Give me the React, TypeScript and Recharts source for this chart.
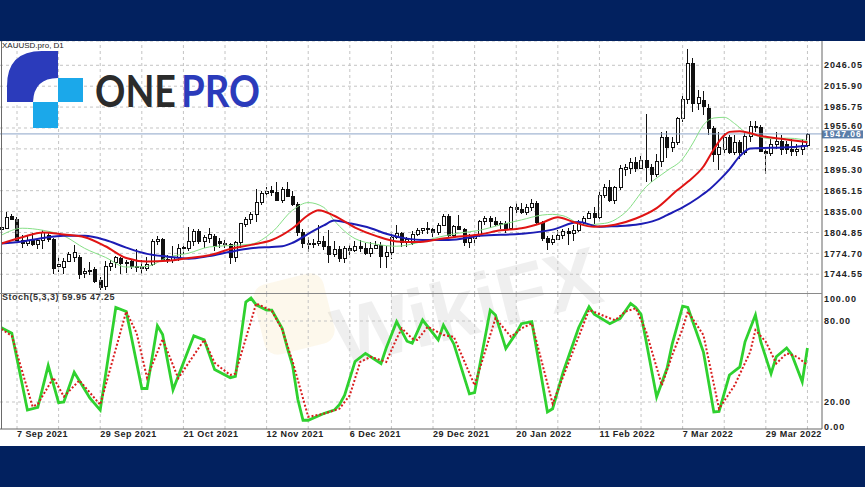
import React from "react";
import { ComposedChart, LineChart, Bar, Line, XAxis, YAxis, CartesianGrid, ReferenceLine } from "recharts";

// XAUUSD daily, 2 Sep 2021 .. 8 Apr 2022 (one entry per bar)
const opens = [
  1810, 1812, 1828, 1824, 1794, 1789, 1794, 1788, 1794, 1801,
  1795, 1757, 1755, 1764, 1770, 1770, 1746, 1749, 1752, 1736,
  1727, 1757, 1762, 1768, 1761, 1763, 1756, 1757, 1754, 1760,
  1793, 1796, 1767, 1765, 1769, 1782, 1783, 1793, 1807, 1793,
  1797, 1800, 1793, 1789, 1788, 1769, 1791, 1817, 1824, 1832,
  1849, 1862, 1866, 1863, 1851, 1868, 1858, 1846, 1805, 1789,
  1788, 1790, 1792, 1785, 1774, 1781, 1768, 1783, 1779, 1785,
  1783, 1775, 1783, 1787, 1771, 1777, 1799, 1804, 1791, 1789,
  1803, 1808, 1811, 1810, 1805, 1815, 1829, 1801, 1814, 1810,
  1791, 1797, 1801, 1822, 1826, 1821, 1817, 1818, 1812, 1841,
  1839, 1835, 1842, 1848, 1820, 1797, 1791, 1796, 1801, 1807,
  1804, 1808, 1820, 1826, 1833, 1827, 1859, 1870, 1852, 1871,
  1896, 1898, 1906, 1898, 1910, 1900, 1889, 1908, 1943, 1928,
  1936, 1970, 1998, 2049, 1992, 1996, 1985, 1955, 1918, 1926,
  1943, 1921, 1936, 1921, 1944, 1958, 1957, 1923, 1919, 1933,
  1937, 1932, 1926, 1923, 1925, 1931,
];
const highs = [
  1823, 1834, 1831, 1827, 1801, 1800, 1804, 1796, 1808, 1806,
  1797, 1770, 1768, 1776, 1787, 1772, 1753, 1762, 1755, 1740,
  1764, 1765, 1771, 1770, 1765, 1767, 1781, 1765, 1770, 1796,
  1800, 1797, 1772, 1785, 1788, 1790, 1813, 1810, 1810, 1801,
  1811, 1802, 1797, 1794, 1790, 1793, 1818, 1827, 1834, 1868,
  1865, 1870, 1872, 1877, 1871, 1877, 1864, 1849, 1810, 1799,
  1796, 1815, 1800, 1808, 1792, 1785, 1786, 1787, 1792, 1794,
  1789, 1791, 1792, 1791, 1785, 1804, 1815, 1806, 1798, 1807,
  1812, 1812, 1820, 1811, 1818, 1831, 1832, 1815, 1830, 1811,
  1802, 1803, 1823, 1829, 1829, 1827, 1822, 1822, 1843, 1847,
  1847, 1846, 1853, 1850, 1822, 1800, 1801, 1808, 1810, 1812,
  1815, 1823, 1829, 1836, 1842, 1865, 1875, 1880, 1872, 1902,
  1903, 1913, 1914, 1915, 1976, 1904, 1918, 1950, 1951, 1942,
  1971, 2002, 2070, 2056, 2010, 2009, 1990, 1958, 1950, 1949,
  1945, 1945, 1938, 1948, 1966, 1966, 1960, 1926, 1940, 1950,
  1945, 1937, 1940, 1932, 1940, 1949,
];
const lows = [
  1808, 1809, 1822, 1792, 1782, 1786, 1785, 1781, 1780, 1792,
  1745, 1748, 1745, 1761, 1763, 1737, 1739, 1743, 1732, 1721,
  1722, 1749, 1754, 1746, 1746, 1752, 1748, 1745, 1750, 1757,
  1787, 1762, 1760, 1761, 1764, 1774, 1778, 1785, 1788, 1782,
  1790, 1777, 1783, 1782, 1759, 1763, 1782, 1812, 1816, 1821,
  1845, 1855, 1858, 1850, 1848, 1856, 1843, 1800, 1782, 1778,
  1783, 1785, 1780, 1761, 1769, 1762, 1762, 1772, 1776, 1777,
  1771, 1770, 1780, 1753, 1753, 1767, 1795, 1785, 1783, 1787,
  1800, 1803, 1803, 1798, 1800, 1813, 1798, 1797, 1808, 1785,
  1782, 1785, 1799, 1816, 1812, 1814, 1810, 1805, 1810, 1833,
  1831, 1830, 1835, 1816, 1793, 1780, 1786, 1794, 1796, 1788,
  1792, 1806, 1815, 1825, 1818, 1821, 1855, 1848, 1846, 1866,
  1886, 1890, 1893, 1896, 1878, 1878, 1885, 1900, 1912, 1920,
  1930, 1965, 1990, 1978, 1981, 1975, 1945, 1906, 1895, 1920,
  1917, 1916, 1910, 1916, 1935, 1950, 1922, 1890, 1916, 1926,
  1916, 1918, 1915, 1915, 1917, 1927,
];
const closes = [
  1813, 1827, 1824, 1794, 1789, 1794, 1788, 1794, 1805, 1795,
  1754, 1760, 1764, 1774, 1777, 1745, 1750, 1751, 1735, 1726,
  1757, 1761, 1769, 1761, 1762, 1757, 1757, 1754, 1760, 1793,
  1796, 1767, 1765, 1769, 1783, 1784, 1792, 1807, 1793, 1798,
  1803, 1786, 1789, 1788, 1769, 1791, 1818, 1824, 1832, 1849,
  1862, 1865, 1863, 1851, 1868, 1858, 1846, 1805, 1789, 1788,
  1790, 1792, 1785, 1774, 1781, 1768, 1783, 1779, 1785, 1783,
  1775, 1783, 1787, 1771, 1777, 1799, 1804, 1791, 1795, 1803,
  1808, 1811, 1810, 1805, 1815, 1829, 1801, 1814, 1810, 1791,
  1797, 1801, 1822, 1826, 1821, 1817, 1818, 1812, 1841, 1839,
  1835, 1842, 1848, 1820, 1797, 1791, 1796, 1801, 1807, 1804,
  1808, 1820, 1826, 1833, 1827, 1859, 1870, 1852, 1871, 1898,
  1899, 1906, 1898, 1910, 1900, 1889, 1908, 1943, 1928, 1936,
  1970, 1998, 2049, 1992, 2000, 1988, 1955, 1918, 1928, 1943,
  1921, 1936, 1921, 1944, 1958, 1957, 1923, 1919, 1933, 1937,
  1925, 1926, 1923, 1925, 1931, 1947,
];

// moving averages: [bar, price]
const maFast: [number, number][] = [
  [0, 1801], [4, 1811], [8, 1808], [12, 1800], [16, 1782], [20, 1769], [24, 1755], [28, 1756],
  [32, 1769], [36, 1775], [40, 1784], [44, 1786], [48, 1788], [52, 1805], [56, 1837], [59, 1848],
  [62, 1841], [64, 1822], [68, 1796], [72, 1788], [76, 1785], [80, 1790], [84, 1798], [88, 1804],
  [92, 1808], [96, 1816], [100, 1823], [104, 1830], [106, 1831], [108, 1829], [112, 1816], [116, 1818],
  [120, 1834], [124, 1871], [128, 1894], [131, 1911], [133, 1934], [135, 1960], [137, 1970], [139, 1971],
  [141, 1962], [143, 1950], [145, 1945], [148, 1940], [151, 1941], [154, 1939], [155, 1937],
];
const maMid: [number, number][] = [
  [0, 1789], [4, 1798], [8, 1805], [12, 1802], [16, 1798], [20, 1785], [24, 1768], [28, 1763],
  [32, 1764], [36, 1768], [40, 1772], [44, 1781], [48, 1787], [52, 1794], [56, 1811], [59, 1830],
  [61, 1837], [64, 1829], [68, 1812], [72, 1800], [76, 1792], [80, 1791], [84, 1795], [88, 1799],
  [92, 1802], [96, 1808], [100, 1811], [104, 1819], [107, 1827], [110, 1820], [114, 1813], [118, 1816],
  [122, 1825], [126, 1840], [130, 1866], [132, 1878], [135, 1900], [137, 1925], [139, 1945], [140, 1950],
  [142, 1951], [146, 1944], [150, 1940], [154, 1936], [155, 1935],
];
const maSlow: [number, number][] = [
  [0, 1789], [4, 1792], [8, 1797], [12, 1800], [16, 1800], [20, 1794], [24, 1783], [28, 1774],
  [32, 1770], [36, 1767], [40, 1771], [44, 1777], [48, 1782], [52, 1784], [54, 1785], [56, 1790],
  [59, 1803], [62, 1815], [64, 1822], [67, 1818], [71, 1811], [74, 1803], [78, 1796], [81, 1794],
  [86, 1794], [92, 1800], [100, 1803], [106, 1809], [111, 1820], [115, 1813], [118, 1814], [122, 1816],
  [126, 1823], [128, 1830], [131, 1841], [134, 1855], [136, 1866], [138, 1880], [140, 1896], [142, 1915],
  [144, 1926], [148, 1927], [152, 1928], [155, 1930],
];

// Stochastic (5,3,3): [bar, value]
const stochK: [number, number][] = [
  [0, 75], [2, 71], [5, 14], [7, 16], [9, 47], [11, 19.5], [12, 20], [14, 42], [17, 23], [19, 14],
  [22, 90], [24, 87], [27, 30], [28, 30], [30, 76.5], [31, 70], [33, 29], [37, 69], [39, 66], [41, 44],
  [44, 38], [45, 39], [47, 94], [48, 97], [49, 92], [51, 88], [52, 88], [54, 74.5], [55, 60], [56, 47],
  [57, 22], [58, 6.5], [59, 6.5], [62, 11.5], [64, 14], [65, 18], [66, 25], [68, 50], [70, 56], [71, 53.5],
  [73, 48.5], [74, 60], [76, 79.5], [78, 65], [79, 63.5], [81, 80.7], [84, 66], [85, 77], [87, 63], [90, 26],
  [91, 27], [94, 88], [95, 84.5], [97, 59.6], [99, 71], [100, 78], [102, 79.5], [105, 12.6], [106, 15], [108, 42],
  [111, 75], [113, 90.6], [114, 85], [117, 78], [119, 82], [121, 93], [122, 90], [123, 85], [124, 64.6], [126, 23.7],
  [128, 45], [129, 63], [131, 91], [132, 90], [135, 57], [137, 12.6], [138, 13], [140, 40], [142, 46], [143, 64.6],
  [145, 84.5], [146, 65], [148, 41], [149, 53.5], [151, 60], [152, 55], [154, 35], [155, 59.95],
];
const stochD: [number, number][] = [
  [0, 74], [2, 69], [6, 16.5], [7, 18.5], [10, 38], [12, 24], [15, 36], [19, 18], [24, 87], [26, 71],
  [28, 38], [31, 66.6], [34, 37.6], [39, 66], [41, 49], [44, 40], [45, 41], [49, 93], [52, 87.5], [54, 73.5],
  [56, 50], [59, 9], [62, 11.3], [65, 15], [67, 25], [69, 49.7], [71, 53.5], [74, 49.7], [76, 67], [77, 74.5],
  [79, 67], [80, 66], [82, 75.8], [85, 69.6], [87, 68.3], [91, 32.4], [95, 82], [98, 68.3], [100, 74.5], [102, 78.2],
  [106, 18.7], [113, 88.2], [117, 82], [118, 80.7], [120, 87], [122, 89.4], [124, 72], [127, 32.4], [129, 54.7], [131, 74.5],
  [132, 87], [135, 69.6], [138, 15], [141, 32.4], [144, 57.2], [145, 73.3], [147, 64.6], [149, 48.5], [151, 56], [153, 53.5],
  [155, 47.25],
];

const priceTicks = [1744.55, 1774.7, 1804.85, 1835.0, 1865.15, 1895.3, 1925.45, 1955.6, 1985.75, 2015.9, 2046.05];
const stochTicks = [0, 20, 80, 100];
const dateLabels = [
  "7 Sep 2021", "29 Sep 2021", "21 Oct 2021", "12 Nov 2021", "6 Dec 2021",
  "29 Dec 2021", "20 Jan 2022", "11 Feb 2022", "7 Mar 2022", "29 Mar 2022",
];
const dateLabelBars = [3, 19, 35, 51, 67, 83, 99, 115, 131, 147];
const gridBars = [3, 11, 19, 27, 35, 43, 51, 59, 67, 75, 83, 91, 99, 107, 115, 123, 131, 139, 147, 155];
const lastPrice = 1947.06;
const stochTitle = "Stoch(5,3,3) 59.95 47.25";
const symbolTitle = "XAUUSD.pro, D1";

const priceDomain: [number, number] = [1716.1, 2081.1];
const barDomain: [number, number] = [-0.27, 157.8];

const NAVY = "#02215f";
const FONT = "'Liberation Sans', Arial, sans-serif";
const GRID = "#c4c4c4";

type Row = {
  i: number; o: number; h: number; l: number; c: number;
  range: [number, number];
  fast: number | null; mid: number | null; slow: number | null;
};

const rows: Row[] = opens.map((o, i) => ({
  i, o, h: highs[i], l: lows[i], c: closes[i],
  range: [lows[i], highs[i]],
  fast: null, mid: null, slow: null,
}));
maFast.forEach(([i, v]) => { rows[i].fast = v; });
maMid.forEach(([i, v]) => { rows[i].mid = v; });
maSlow.forEach(([i, v]) => { rows[i].slow = v; });

const stochRows: { i: number; k: number | null; d: number | null }[] = opens.map((_, i) => ({ i, k: null, d: null }));
stochK.forEach(([i, v]) => { stochRows[i].k = v; });
stochD.forEach(([i, v]) => { stochRows[i].d = v; });

function Candle(props: any) {
  const { x, y, width, height, payload } = props;
  if (x == null || payload == null) return null;
  const top = Math.min(y, y + height);
  const span = Math.abs(height);
  const { o, h, l, c } = payload;
  const toY = (v: number) => top + ((h - v) / (h - l || 1)) * span;
  const bx = Math.round(x + width / 2);
  const bTop = Math.round(toY(Math.max(o, c)));
  const bBot = Math.max(Math.round(toY(Math.min(o, c))), bTop + 1);
  const bull = c >= o;
  return (
    <g>
      <rect x={bx - 1} y={Math.round(top)} width={1} height={Math.max(Math.round(span), 1)} fill="#111" />
      <rect x={bx - 2} y={bTop} width={4} height={bBot - bTop + 1} fill="#111" />
      {bull && bBot - bTop > 1 && <rect x={bx - 1} y={bTop + 1} width={2} height={bBot - bTop - 1} fill="#fff" />}
    </g>
  );
}

function PriceTick(props: any) {
  const { x, y, payload } = props;
  const v = Number(payload.value);
  // the last-price box sits just under this one
  const shift = v === 1955.6 ? -2.5 : 0;
  return (
    <text x={x} y={y + 3.2 + shift} fontSize={9} fontWeight="bold" letterSpacing={0.9} fill="#222" fontFamily={FONT} textAnchor="start">
      {v.toFixed(2)}
    </text>
  );
}

function StochTick(props: any) {
  const { x, y, payload } = props;
  const v = Number(payload.value);
  const shift = v === 100 ? 4.5 : v === 0 ? -2 : 0;
  return (
    <text x={x} y={y + 3.2 + shift} fontSize={9} fontWeight="bold" letterSpacing={0.9} fill="#222" fontFamily={FONT} textAnchor="start">
      {v.toFixed(2)}
    </text>
  );
}

function DateTick(props: any) {
  const { x, y, payload } = props;
  const k = dateLabelBars.indexOf(payload.value);
  if (k < 0) return null;
  return (
    <text x={x} y={y + 8} fontSize={9} fontWeight="bold" letterSpacing={0.45} fill="#222" fontFamily={FONT} textAnchor="start">
      {dateLabels[k]}
    </text>
  );
}

function PriceBox(props: any) {
  const vb = props.viewBox;
  if (!vb) return null;
  const x0 = vb.x + vb.width;
  return (
    <g>
      <rect x={x0} y={vb.y - 3.5} width={41} height={8} fill="#5a7eaa" />
      <text x={x0 + 2} y={vb.y + 3.5} fontSize={8.5} fontWeight="bold" letterSpacing={1} fill="#fff" fontFamily={FONT}>
        {lastPrice.toFixed(2)}
      </text>
    </g>
  );
}

export default function App() {
  return (
    <div style={{ position: "fixed", left: 0, top: 0, width: 865, height: 487, background: NAVY, overflow: "hidden", fontFamily: FONT }}>
      <div style={{ position: "absolute", left: 0, top: 41, width: 865, height: 405, background: "#fff" }} />

      {/* watermark */}
      <svg width={865} height={487} style={{ position: "absolute", left: 0, top: 0 }}>
        <rect x={258} y={278} width={72} height={72} rx={14} fill="#f2c96b" opacity={0.13} transform="rotate(-14 294 314)" />
        <text x={465} y={335} fontSize={82} fontWeight="bold" fill="#8a8a8a" opacity={0.13} textAnchor="middle" fontFamily={FONT} transform="rotate(-14 465 300)">
          WikiFX
        </text>
      </svg>

      <div style={{ position: "absolute", left: 0, top: 41 }}>
        <ComposedChart width={865} height={253} data={rows} margin={{ top: 0, right: 0, bottom: 0, left: 0 }}>
          <CartesianGrid vertical={false} stroke={GRID} strokeDasharray="3 3" />
          {gridBars.map((b) => (
            <ReferenceLine key={b} x={b} stroke={GRID} strokeDasharray="3 3" />
          ))}
          <XAxis dataKey="i" type="number" domain={barDomain} allowDataOverflow hide />
          <YAxis
            orientation="right"
            width={43}
            domain={priceDomain}
            allowDataOverflow
            ticks={priceTicks}
            interval={0}
            tickSize={0}
            tickMargin={2}
            tick={<PriceTick />}
            axisLine={{ stroke: "#666" }}
          />
          <ReferenceLine y={lastPrice} stroke="#8ca5c8" strokeWidth={1} label={(p: any) => <PriceBox {...p} />} />
          <Bar dataKey="range" barSize={4} shape={<Candle />} isAnimationActive={false} />
          <Line dataKey="fast" type="monotone" stroke="#86df86" strokeWidth={1} dot={false} activeDot={false} connectNulls isAnimationActive={false} />
          <Line dataKey="slow" type="monotone" stroke="#1c1cb4" strokeWidth={2} dot={false} activeDot={false} connectNulls isAnimationActive={false} />
          <Line dataKey="mid" type="monotone" stroke="#e01414" strokeWidth={2} dot={false} activeDot={false} connectNulls isAnimationActive={false} />
        </ComposedChart>
      </div>

      <div style={{ position: "absolute", left: 0, top: 294 }}>
        <LineChart width={865} height={151} data={stochRows} margin={{ top: 0, right: 0, bottom: 0, left: 0 }}>
          <CartesianGrid vertical={false} stroke={GRID} strokeDasharray="3 3" horizontalValues={[20, 80]} />
          {gridBars.map((b) => (
            <ReferenceLine key={b} x={b} stroke={GRID} strokeDasharray="3 3" />
          ))}
          <XAxis
            dataKey="i"
            type="number"
            domain={barDomain}
            allowDataOverflow
            ticks={dateLabelBars}
            interval={0}
            tickSize={0}
            tickMargin={0}
            height={16}
            tick={<DateTick />}
            axisLine={{ stroke: "#666" }}
          />
          <YAxis
            orientation="right"
            width={43}
            domain={[0, 100]}
            ticks={stochTicks}
            interval={0}
            tickSize={0}
            tickMargin={2}
            tick={<StochTick />}
            axisLine={{ stroke: "#666" }}
          />
          <Line dataKey="k" type="linear" stroke="#2fd12f" strokeWidth={2.8} dot={false} activeDot={false} connectNulls isAnimationActive={false} />
          <Line dataKey="d" type="linear" stroke="#d81e1e" strokeWidth={2} strokeDasharray="2 2" dot={false} activeDot={false} connectNulls isAnimationActive={false} />
        </LineChart>
      </div>

      {/* panel borders */}
      <div style={{ position: "absolute", left: 1, top: 41, width: 1, height: 388, background: "#6a6a6a" }} />
      <div style={{ position: "absolute", left: 0, top: 293, width: 822, height: 1, background: "#8a8a8a" }} />

      {/* titles */}
      <div style={{ position: "absolute", left: 2, top: 41, fontSize: 8, color: "#222", lineHeight: "10px", whiteSpace: "nowrap" }}>{symbolTitle}</div>
      <div style={{ position: "absolute", left: 2, top: 292, fontSize: 9, fontWeight: "bold", letterSpacing: 0.5, color: "#333", lineHeight: "11px", whiteSpace: "nowrap" }}>{stochTitle}</div>

      {/* logo */}
      <svg width={340} height={90} style={{ position: "absolute", left: 0, top: 45, overflow: "visible" }}>
        <path d="M 7 57 L 7 41 Q 7 6 42 6 L 58 6 L 58 33 Q 34 33 33 57 Z" fill="#2b3bbb" />
        <rect x={58} y={33} width={25} height={24} fill="#1ba8ea" />
        <rect x={33} y={57} width={25} height={26} fill="#1ba8ea" />
        <text x={95} y={61.5} fontSize={44} fontWeight="bold" fill="#2b2b2b" fontFamily="Lato, 'Open Sans', sans-serif" textLength={81} lengthAdjust="spacingAndGlyphs">ONE</text>
        <text x={181} y={61.5} fontSize={44} fontWeight="bold" fill="#2b3bbb" fontFamily="Lato, 'Open Sans', sans-serif" textLength={79} lengthAdjust="spacingAndGlyphs">PRO</text>
      </svg>
    </div>
  );
}
